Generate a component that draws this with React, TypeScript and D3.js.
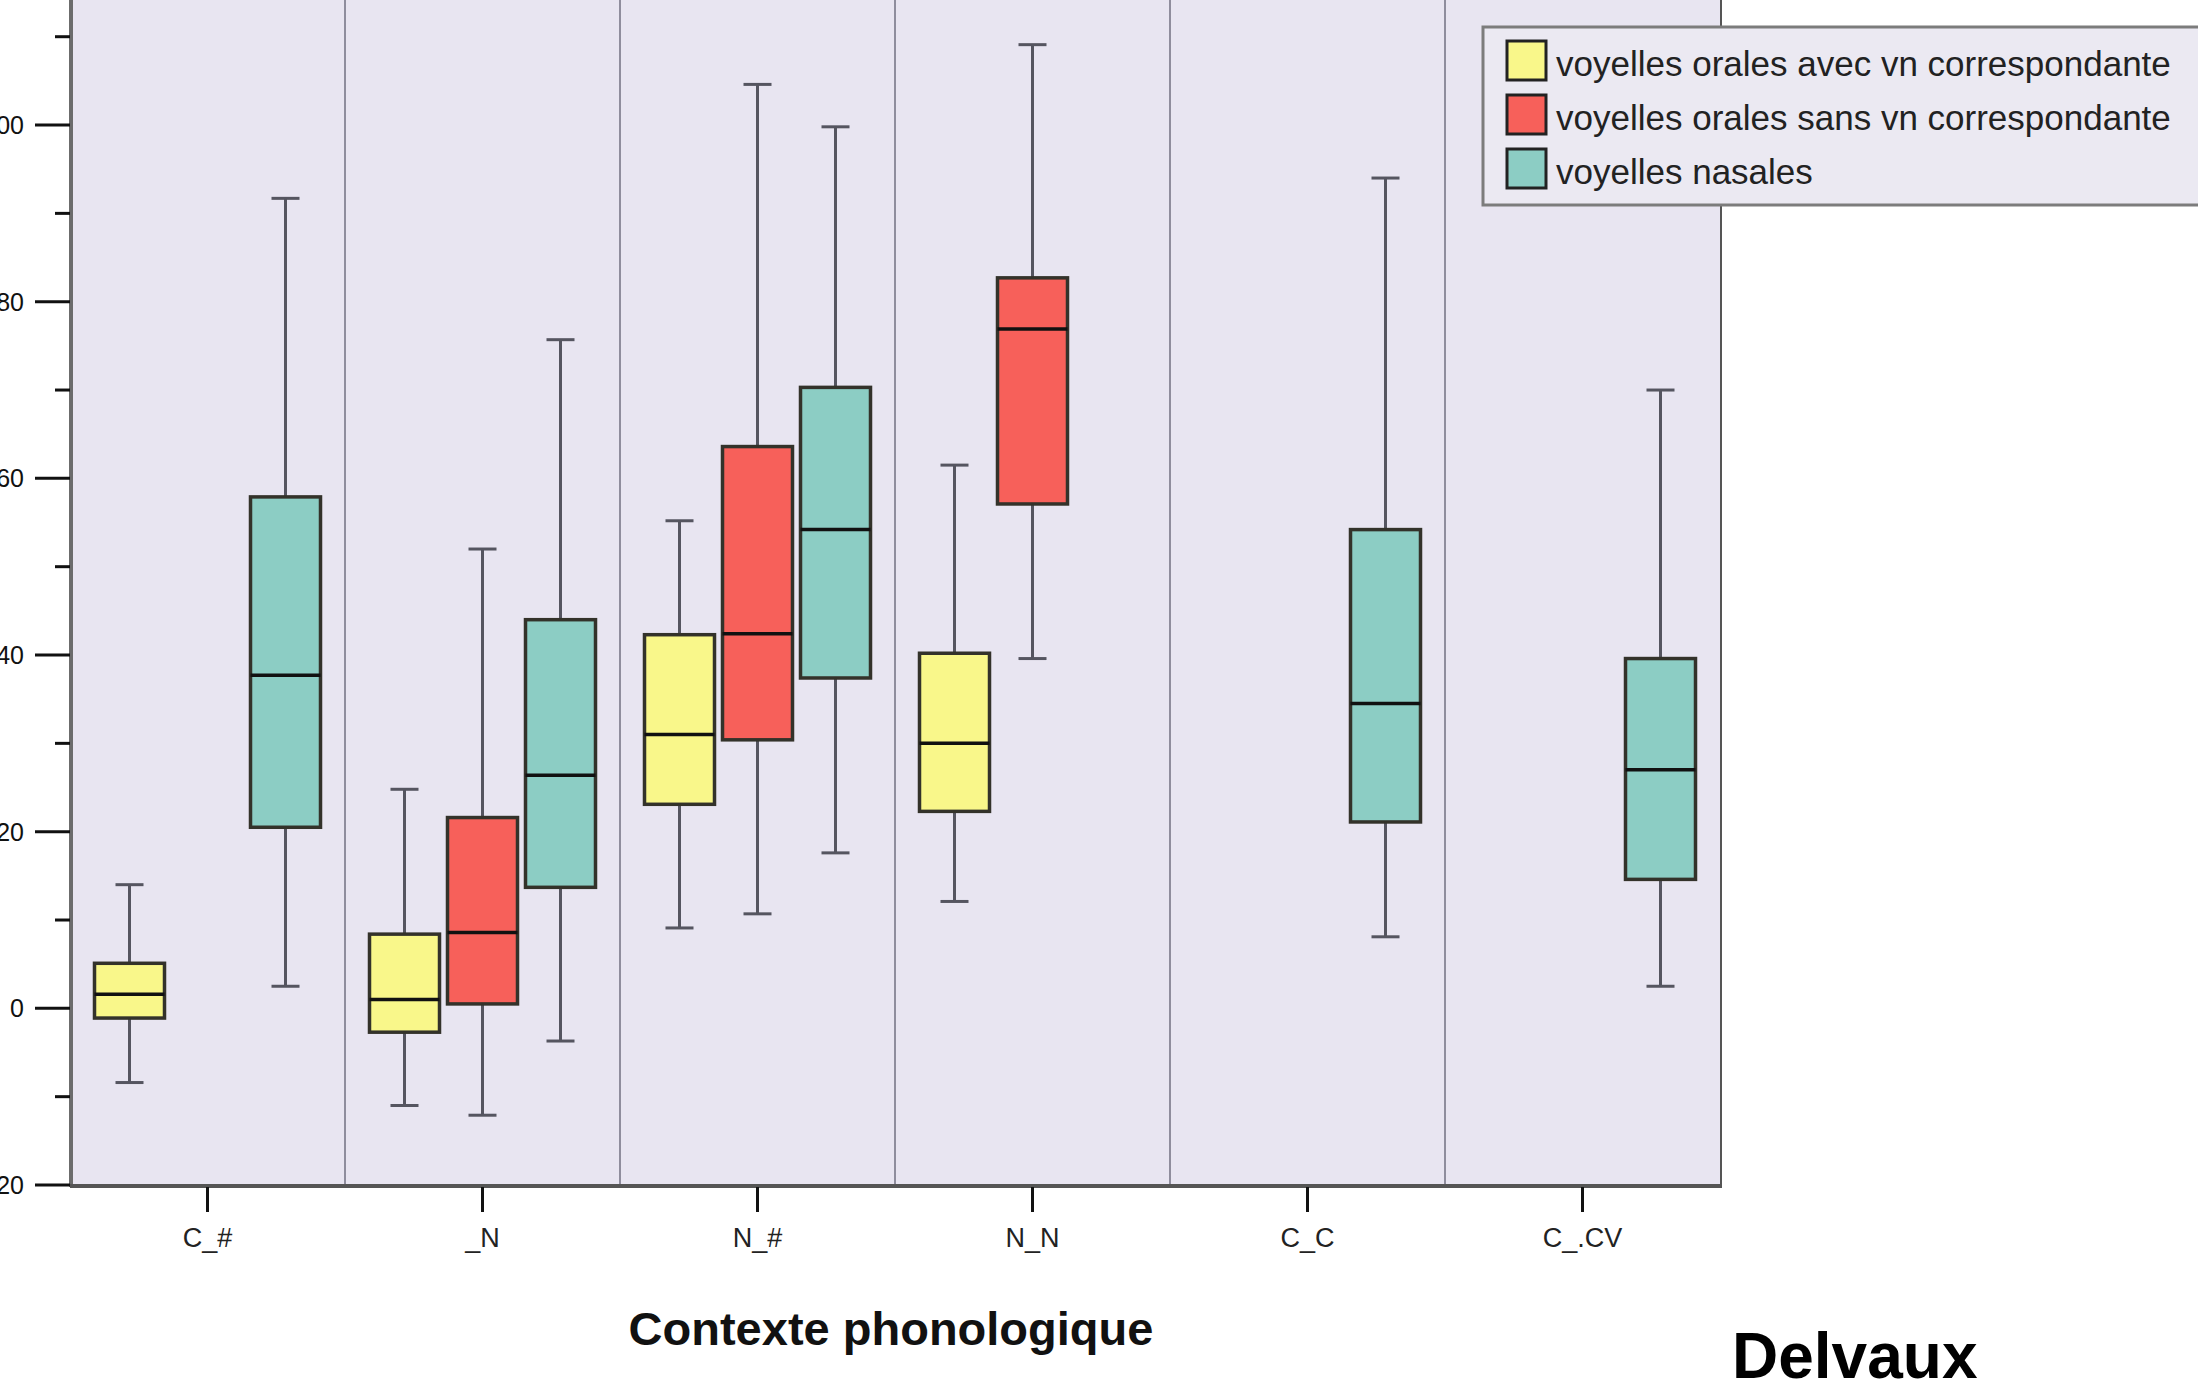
import React from "react";
import * as d3 from "d3";

const categories = ["C_#", "_N", "N_#", "N_N", "C_C", "C_.CV"];
const seriesNames = [
  "voyelles orales avec vn correspondante",
  "voyelles orales sans vn correspondante",
  "voyelles nasales",
];
const seriesColors = ["#f9f78a", "#f7605a", "#8ccdc4"];

// [min, q1, median, q3, max] per category
const yellowStats: (number[] | null)[] = [
  [-8.4, -1.1, 1.6, 5.1, 14.0],
  [-11.0, -2.7, 1.0, 8.4, 24.8],
  [9.1, 23.1, 31.0, 42.3, 55.2],
  [12.1, 22.3, 30.0, 40.2, 61.5],
  null,
  null,
];
const redStats: (number[] | null)[] = [
  null,
  [-12.1, 0.5, 8.6, 21.6, 52.0],
  [10.7, 30.4, 42.4, 63.6, 104.6],
  [39.6, 57.1, 76.9, 82.7, 109.1],
  null,
  null,
];
const tealStats: (number[] | null)[] = [
  [2.5, 20.5, 37.7, 57.9, 91.7],
  [-3.7, 13.7, 26.4, 44.0, 75.7],
  [17.6, 37.4, 54.2, 70.3, 99.8],
  null,
  [8.1, 21.1, 34.5, 54.2, 94.0],
  [2.5, 14.6, 27.0, 39.6, 70.0],
];
const allStats = [yellowStats, redStats, tealStats];

const majorTicks = [-20, 0, 20, 40, 60, 80, 100, 120];
const minorTicks = [-10, 10, 30, 50, 70, 90, 110];

const xAxisTitle = "Contexte phonologique";
const author = "Delvaux";

const FONT = "'Liberation Sans', Arial, sans-serif";

export default function App() {
  const left = 70;
  const right = 1720;
  const bottom = 1185;
  const y = d3.scaleLinear().domain([-20, 120]).range([bottom, bottom - 140 * 8.833]);
  const x = d3.scaleBand<string>().domain(categories).range([left, right]).padding(0);
  const inner = d3.scalePoint<number>().domain([0, 1, 2]).range([-78, 78]);
  const boxW = 70;
  const capW = 28;

  return (
    <svg
      width={2198}
      height={1383}
      style={{ position: "absolute", left: 0, top: 0, background: "#fff" }}
      fontFamily={FONT}
    >
      <rect x={0} y={0} width={2198} height={1383} fill="#ffffff" />
      {/* plot background */}
      <rect x={left} y={-60} width={right - left} height={bottom + 60} fill="#e8e5f1" />
      {/* category separators */}
      {categories.slice(1).map((c) => (
        <line key={c} x1={x(c)!} x2={x(c)!} y1={-60} y2={bottom} stroke="#8f8d9d" strokeWidth={2} />
      ))}
      {/* right border */}
      <line x1={right + 1} x2={right + 1} y1={-60} y2={bottom + 2} stroke="#555" strokeWidth={2} />

      {/* boxes */}
      {allStats.map((stats, si) =>
        stats.map((s, ci) => {
          if (!s) return null;
          const cx = x(categories[ci])! + x.bandwidth() / 2 + inner(si)!;
          const [mn, q1, md, q3, mx] = s;
          return (
            <g key={`${si}-${ci}`}>
              <line x1={cx} x2={cx} y1={y(mx)} y2={y(q3)} stroke="#555560" strokeWidth={3} />
              <line x1={cx} x2={cx} y1={y(q1)} y2={y(mn)} stroke="#555560" strokeWidth={3} />
              <line x1={cx - capW / 2} x2={cx + capW / 2} y1={y(mx)} y2={y(mx)} stroke="#555560" strokeWidth={3} />
              <line x1={cx - capW / 2} x2={cx + capW / 2} y1={y(mn)} y2={y(mn)} stroke="#555560" strokeWidth={3} />
              <rect
                x={cx - boxW / 2}
                y={y(q3)}
                width={boxW}
                height={y(q1) - y(q3)}
                fill={seriesColors[si]}
                stroke="#33322a"
                strokeWidth={3.5}
              />
              <line x1={cx - boxW / 2} x2={cx + boxW / 2} y1={y(md)} y2={y(md)} stroke="#111" strokeWidth={3.5} />
            </g>
          );
        })
      )}

      {/* y axis */}
      <line x1={left + 1} x2={left + 1} y1={-60} y2={bottom + 2} stroke="#6c6c6c" strokeWidth={4} />
      {majorTicks.map((t) => (
        <g key={t}>
          <line x1={35} x2={left} y1={y(t)} y2={y(t)} stroke="#111" strokeWidth={3} />
          <text x={24} y={y(t) + 9} textAnchor="end" fontSize={25} fill="#111">
            {t}
          </text>
        </g>
      ))}
      {minorTicks.map((t) => (
        <line key={t} x1={55} x2={left} y1={y(t)} y2={y(t)} stroke="#111" strokeWidth={3} />
      ))}

      {/* x axis */}
      <line x1={left} x2={right + 2} y1={bottom + 1} y2={bottom + 1} stroke="#555" strokeWidth={4} />
      {categories.map((c) => {
        const cx = x(c)! + x.bandwidth() / 2;
        return (
          <g key={c}>
            <line x1={cx} x2={cx} y1={bottom + 2} y2={bottom + 27} stroke="#111" strokeWidth={3} />
            <text x={cx} y={bottom + 62} textAnchor="middle" fontSize={27} fill="#222">
              {c}
            </text>
          </g>
        );
      })}

      <text x={891} y={1345} textAnchor="middle" fontSize={47} fontWeight="bold" fill="#111">
        {xAxisTitle}
      </text>
      <text x={1732} y={1378} textAnchor="start" fontSize={64} fontWeight="bold" fill="#000">
        {author}
      </text>

      {/* legend */}
      <rect x={1483} y={27} width={740} height={178} fill="#ebe9f2" stroke="#7c7c7c" strokeWidth={3} />
      {seriesNames.map((n, i) => (
        <g key={n}>
          <rect x={1507} y={41 + i * 54} width={39} height={39} fill={seriesColors[i]} stroke="#222" strokeWidth={3} />
          <text x={1556} y={76 + i * 54} fontSize={35} fill="#222">
            {n}
          </text>
        </g>
      ))}
    </svg>
  );
}
